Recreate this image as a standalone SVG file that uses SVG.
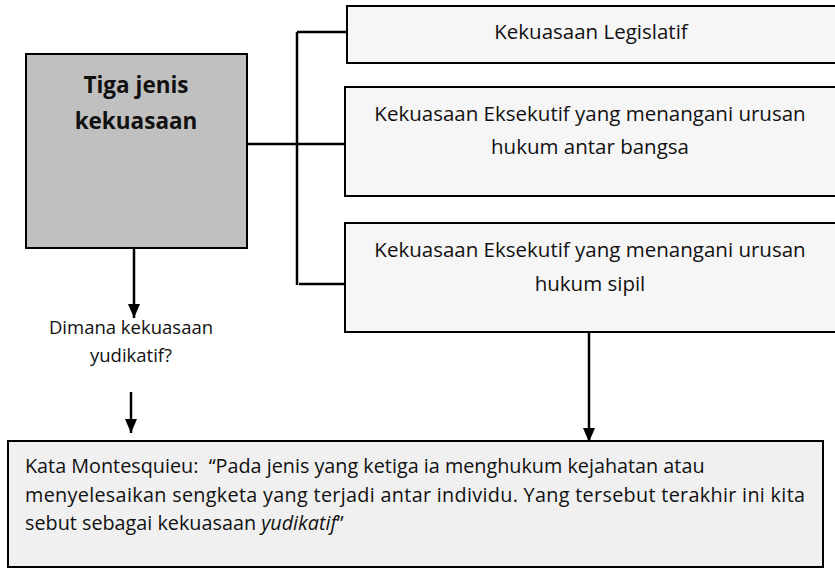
<svg xmlns="http://www.w3.org/2000/svg" width="835" height="568" viewBox="0 0 835 568">
<style>
.box{fill:#f6f6f6;stroke:#000;stroke-width:2}
.t{font-family:"Open Sans","Liberation Sans",sans-serif;font-size:20.5px;fill:#111;text-anchor:middle}
.b{font-family:"Open Sans","Liberation Sans",sans-serif;font-size:19.8px;fill:#111}
.ln{stroke:#000;stroke-width:2.5;fill:none}
</style>
<defs>
<marker id="ah" markerWidth="14" markerHeight="12" refX="14" refY="6" orient="auto" markerUnits="userSpaceOnUse" viewBox="0 0 14 12">
<path d="M0,0 L14,6 L0,12 Z" fill="#000"/>
</marker>
</defs>
<rect width="835" height="568" fill="#fff"/>
<g id="main">
<rect x="26" y="54" width="221" height="194" fill="#c0c0c0" stroke="#000" stroke-width="2"/>
<text x="136" y="93" class="t" style="font-weight:bold;font-size:22.5px">Tiga jenis</text>
<text x="136" y="129" class="t" style="font-weight:bold;font-size:22.5px">kekuasaan</text>
</g>
<g id="legislatif">
<rect x="347" y="6" width="495" height="57" class="box"/>
<text x="591" y="39" class="t">Kekuasaan Legislatif</text>
</g>
<g id="eksekutif1">
<rect x="345" y="87" width="497" height="109" class="box"/>
<text x="590" y="121" class="t">Kekuasaan Eksekutif yang menangani urusan</text>
<text x="590" y="154" class="t">hukum antar bangsa</text>
</g>
<g id="eksekutif2">
<rect x="345" y="223" width="497" height="109" class="box"/>
<text x="590" y="257" class="t">Kekuasaan Eksekutif yang menangani urusan</text>
<text x="590" y="291" class="t">hukum sipil</text>
</g>
<g id="question">
<text x="131" y="334" class="t" style="font-size:18.5px">Dimana kekuasaan</text>
<text x="131" y="362" class="t" style="font-size:18.5px">yudikatif?</text>
</g>
<g id="montesquieu">
<rect x="8" y="441" width="815" height="126" fill="#f0f0f0" stroke="#000" stroke-width="2"/>
<text x="25" y="473" class="b" xml:space="preserve">Kata Montesquieu:  “Pada jenis yang ketiga ia menghukum kejahatan atau</text>
<text x="25" y="502" class="b" textLength="780">menyelesaikan sengketa yang terjadi antar individu. Yang tersebut terakhir ini kita</text>
<text x="25" y="530" class="b">sebut sebagai kekuasaan <tspan font-style="italic">yudikatif</tspan>”</text>
</g>
<g id="connectors">
<path class="ln" d="M297,32 V285"/>
<path class="ln" d="M297,32 H347"/>
<path class="ln" d="M247,144 H345"/>
<path class="ln" d="M299,284 H345"/>
<path class="ln" d="M134,248 V318" marker-end="url(#ah)"/>
<path class="ln" d="M131,392 V433" marker-end="url(#ah)"/>
<path class="ln" d="M589,332 V442" marker-end="url(#ah)"/>
</g>
</svg>
